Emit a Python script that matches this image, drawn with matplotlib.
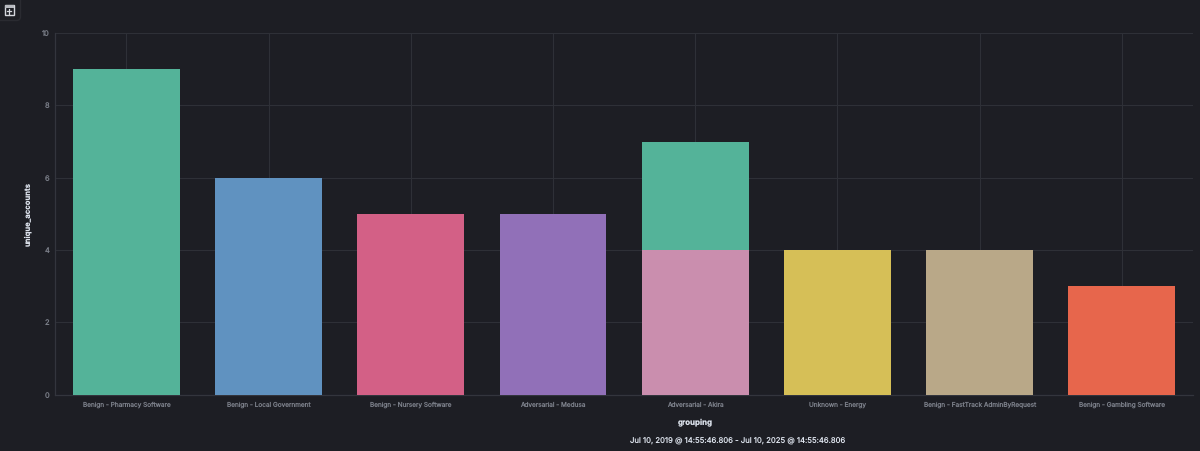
import matplotlib
matplotlib.use("Agg")
import matplotlib.pyplot as plt
from matplotlib.patches import FancyBboxPatch, Rectangle
from matplotlib.lines import Line2D

categories = ["Benign - Pharmacy Software", "Benign - Local Government", "Benign - Nursery Software",
              "Adversarial - Medusa", "Adversarial - Akira", "Unknown - Energy",
              "Benign - FastTrack AdminByRequest", "Benign - Gambling Software"]
base_values = [9, 6, 5, 5, 4, 4, 4, 3]
stack_values = [0, 0, 0, 0, 3, 0, 0, 0]
base_colors = ["#54B399", "#6092C0", "#D36086", "#9170B8", "#CA8EAE", "#D6BF57", "#B9A888", "#E7664C"]
stack_color = "#54B399"
y_ticks = [0, 2, 4, 6, 8, 10]
x_title = "grouping"
y_title = "unique_accounts"
time_range = "Jul 10, 2019 @ 14:55:46.806 - Jul 10, 2025 @ 14:55:46.806"

BG = "#1D1E24"
GRID = "#2E3037"
W, H = 1200, 451
plt.rcParams["font.family"] = ["Inter", "DejaVu Sans"]
plt.rcParams["text.hinting"] = "no_hinting"
plt.rcParams["text.hinting_factor"] = 1

fig = plt.figure(figsize=(W / 100, H / 100), dpi=100, facecolor=BG)
ax = fig.add_axes([55.3 / W, 1 - 394.6 / H, 1137.6 / W, 361.5 / H], facecolor=BG)
x = list(range(len(categories)))
ax.bar(x, base_values, width=0.752, color=base_colors, zorder=3, linewidth=0)
ax.bar(x, stack_values, width=0.752, bottom=base_values, color=stack_color, zorder=3, linewidth=0)
ax.set_xlim(-0.5, len(categories) - 0.5)
ax.set_ylim(0, 10)
ax.set_yticks(y_ticks)
ax.set_xticks(x)
ax.set_xticklabels(categories)
ax.grid(True, color=GRID, linewidth=0.8, zorder=0)
ax.set_axisbelow(True)
for s in ["top", "right"]:
    ax.spines[s].set_visible(False)
for s in ["left", "bottom"]:
    ax.spines[s].set_color("#33353D")
    ax.spines[s].set_linewidth(0.9)
ax.tick_params(axis="both", length=0, labelcolor="#7A7E88")
ax.tick_params(axis="x", pad=8.6, labelsize=4.65)
ax.tick_params(axis="y", pad=4.4, labelsize=5.4)
for lab in ax.get_xticklabels():
    lab.set_va("baseline")

fig.text(28 / W, 1 - 214 / H, y_title, rotation=90, ha="center", va="center",
         color="#DFE5EF", fontsize=5.5, fontweight="bold")
fig.text(695 / W, 1 - 423 / H, x_title, ha="center", va="center",
         color="#DFE5EF", fontsize=5.7, fontweight="bold")
fig.text(737.5 / W, 1 - 441 / H, time_range, ha="center", va="center",
         color="#DFE5EF", fontsize=5.55)

# Toolbar button with its icon, in pixel coordinates
ov = fig.add_axes([0, 0, 1, 1], facecolor="none")
ov.set_xlim(0, W)
ov.set_ylim(H, 0)
ov.axis("off")
ov.add_patch(FancyBboxPatch((-8, -8), 28.5, 28.5, boxstyle="round,pad=0,rounding_size=4",
                            facecolor="#1D1E24", edgecolor="#2A2B31", linewidth=1))
ov.add_patch(Rectangle((4.5, 5), 9, 9.5, facecolor="none", edgecolor="#D4D6DC", linewidth=1))
ov.add_patch(Rectangle((4.5, 5), 9, 3, facecolor="#B8BAC0", edgecolor="none"))
ov.add_line(Line2D([9, 9], [9, 13.5], color="#D4D6DC", linewidth=0.9))
ov.add_line(Line2D([6.6, 11.4], [11.2, 11.2], color="#D4D6DC", linewidth=0.9))

fig.savefig("out.png", dpi=100, facecolor=BG)
